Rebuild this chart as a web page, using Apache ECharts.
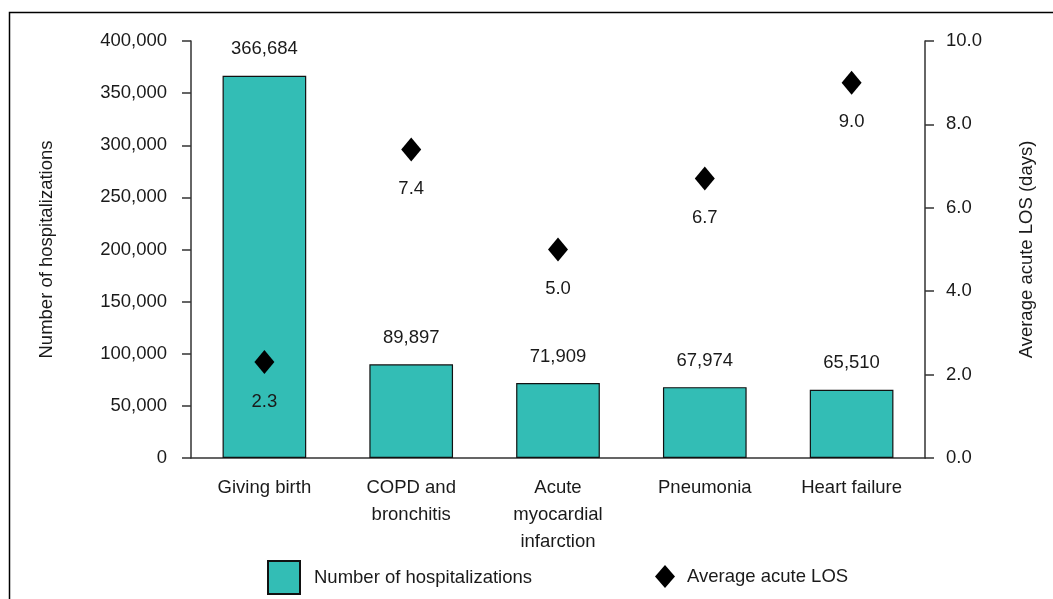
<!DOCTYPE html>
<html>
<head>
<meta charset="utf-8">
<script src="https://cdn.jsdelivr.net/npm/echarts@6/dist/echarts.min.js"></script>
<style>
  html, body { margin: 0; padding: 0; background: #fff; }
  #chart { width: 1053px; height: 599px; }
</style>
</head>
<body>
<div id="chart"></div>
<script>
var categories = ['Giving birth', 'COPD and\nbronchitis', 'Acute\nmyocardial\ninfarction', 'Pneumonia', 'Heart failure'];
var hospitalizations = [366684, 89897, 71909, 67974, 65510];
var avgLos = [2.3, 7.4, 5.0, 6.7, 9.0];

var font = "'Liberation Sans Narrow', 'Liberation Sans', Arial, sans-serif";
var ink = '#1a1a1a';
var fs = 18.5;

var chart = echarts.init(document.getElementById('chart'));
var options = {
    animation: false,
    textStyle: { fontFamily: font, color: ink },
    graphic: [{
        type: 'rect',
        shape: { x: 9.5, y: 12.5, width: 1200, height: 800 },
        style: { fill: 'none', stroke: '#000', lineWidth: 1.5 },
        silent: true
    }],
    grid: { left: 191, right: 128, top: 41, bottom: 141 },
    legend: [{
        left: 267, top: 560, padding: 0,
        icon: 'rect',
        itemWidth: 32, itemHeight: 33,
        textStyle: { fontFamily: font, fontSize: fs, color: ink, padding: [0, 0, 0, 9] },
        data: ['Number of hospitalizations']
    }, {
        left: 655, top: 565, padding: 0,
        itemWidth: 20, itemHeight: 23,
        textStyle: { fontFamily: font, fontSize: fs, color: ink, padding: [0, 0, 0, 7] },
        data: ['Average acute LOS']
    }],
    xAxis: {
        type: 'category',
        data: categories,
        axisTick: { show: false },
        axisLine: { lineStyle: { color: '#333', width: 1.5 } },
        axisLabel: { interval: 0, fontFamily: font, fontSize: fs, color: ink, lineHeight: 27, margin: 16 }
    },
    yAxis: [{
        type: 'value',
        min: 0, max: 400000, interval: 50000,
        name: 'Number of hospitalizations',
        nameLocation: 'middle', nameGap: 135, nameRotate: 90,
        nameTextStyle: { fontFamily: font, fontSize: fs, color: ink },
        splitLine: { show: false },
        axisLine: { show: true, lineStyle: { color: '#333', width: 1.5 } },
        axisTick: { show: true, length: 9, lineStyle: { color: '#333', width: 1.5 } },
        axisLabel: {
            fontFamily: font, fontSize: fs, color: ink, margin: 24,
            formatter: function (v) { return v.toLocaleString('en-US'); }
        }
    }, {
        type: 'value',
        min: 0, max: 10, interval: 2,
        name: 'Average acute LOS (days)',
        nameLocation: 'middle', nameGap: 92, nameRotate: 90,
        nameTextStyle: { fontFamily: font, fontSize: fs, color: ink },
        splitLine: { show: false },
        axisLine: { show: true, lineStyle: { color: '#333', width: 1.5 } },
        axisTick: { show: true, length: 9, lineStyle: { color: '#333', width: 1.5 } },
        axisLabel: {
            fontFamily: font, fontSize: fs, color: ink, margin: 21,
            formatter: function (v) { return v.toFixed(1); }
        }
    }],
    series: [{
        name: 'Number of hospitalizations',
        type: 'bar',
        barWidth: '57%',
        yAxisIndex: 0,
        data: hospitalizations,
        itemStyle: { color: '#33BDB5', borderColor: '#111', borderWidth: 1.2 },
        label: {
            show: true, position: 'top', distance: 17,
            fontFamily: font, fontSize: fs, color: ink,
            formatter: function (p) { return p.value.toLocaleString('en-US'); }
        }
    }, {
        name: 'Average acute LOS',
        type: 'scatter',
        yAxisIndex: 1,
        data: avgLos,
        symbol: 'diamond',
        symbolSize: [20, 24],
        itemStyle: { color: '#000', opacity: 1 },
        label: {
            show: true, position: 'bottom', distance: 18,
            fontFamily: font, fontSize: fs, color: ink,
            formatter: function (p) { return p.value.toFixed(1); }
        }
    }]
};
chart.setOption(options);
window.addEventListener('resize', function () {
    chart.resize();
});
</script>
</body>
</html>
